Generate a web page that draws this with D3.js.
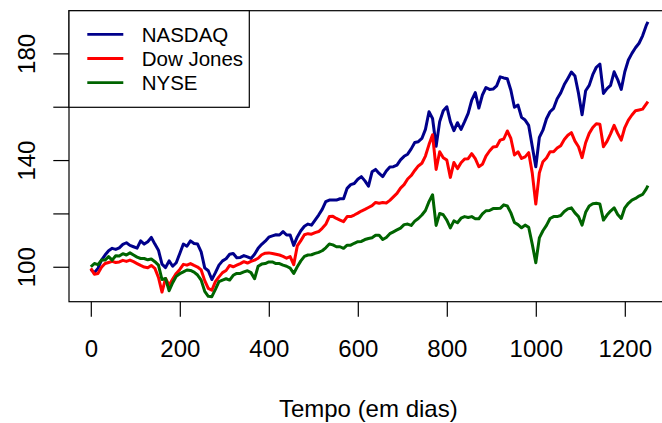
<!DOCTYPE html>
<html>
<head>
<meta charset="utf-8">
<script src="https://cdnjs.cloudflare.com/ajax/libs/d3/7.8.5/d3.min.js"></script>
<style>
  body { margin: 0; background: #fff; }
  svg { display: block; font-family: "Liberation Sans", Arial, sans-serif; }
</style>
</head>
<body>
<div id="svg_container"></div>
<script>
const w = 662;
const h = 423;

// day index of each sample
const days = [
  0, 8, 16, 24, 32, 40, 48, 56, 64, 72, 80, 88, 96, 104, 112, 120, 128, 136, 144, 152,
  160, 168, 176, 184, 192, 200, 208, 216, 224, 232, 240, 248, 256, 264, 272, 280, 288, 296, 304, 312,
  320, 328, 336, 344, 352, 360, 368, 376, 384, 392, 400, 408, 416, 424, 432, 440, 448, 456, 464, 472,
  480, 488, 496, 504, 512, 520, 528, 536, 544, 552, 560, 568, 576, 584, 592, 600, 608, 616, 624, 632,
  640, 648, 656, 664, 672, 680, 688, 696, 704, 712, 720, 728, 736, 744, 752, 760, 768, 776, 784, 792,
  800, 808, 816, 824, 832, 840, 848, 856, 864, 872, 880, 888, 896, 904, 912, 920, 928, 936, 944, 952,
  960, 968, 976, 984, 992, 1000, 1008, 1016, 1024, 1032, 1040, 1048, 1056, 1064, 1072, 1080, 1088, 1096, 1104, 1112,
  1120, 1128, 1136, 1144, 1152, 1160, 1168, 1176, 1184, 1192, 1200, 1208, 1216, 1224, 1232, 1240, 1248, 1252
];

const nasdaq = [
  99.0, 97.8, 99.4, 102.5, 104.4, 106, 106.9, 106.5, 107.1, 108.4, 109, 108, 107.5, 107, 109.7, 108.5, 109.4, 111, 108.5, 106.2,
  101, 99.7, 102.2, 100.2, 101.5, 105, 108.5, 107.7, 109.7, 108.7, 108.5, 105.6, 99.6, 98.5, 95.2, 97.8, 100.6, 102.2, 103, 104.7,
  105, 103.4, 103.5, 104.2, 103.7, 103.1, 104.7, 106.9, 108.4, 109.6, 111.1, 111.6, 112, 111.9, 113.2, 111.9, 111.9, 108, 111.2, 113.5,
  115.2, 116, 115.6, 117.5, 119.4, 121.5, 124.4, 125, 125, 125, 125.5, 125.5, 129.4, 130.8, 131.2, 132.8, 133.8, 132.2, 130.2, 135.6,
  136.5, 135, 133.8, 135.9, 137.4, 137.5, 138.1, 140.1, 141.4, 142.2, 144.2, 146.6, 146.9, 148.1, 151.5, 158.1, 155.6, 145.2, 154.4, 158.5,
  160, 154.4, 151, 154, 151.5, 154.4, 157.5, 162.5, 165.3, 159.5, 164.4, 167.2, 166.5, 166.6, 167.8, 171.2, 170.8, 170.5, 166.2, 159.8,
  160.6, 156, 155, 153, 145.2, 137.5, 148.5, 151.2, 155.5, 158.1, 159.4, 163, 165.2, 168.3, 170.6, 173, 171.5, 165, 157, 166,
  168, 172, 174.8, 176, 165, 166.8, 168, 173.1, 170.2, 166.5, 173.1, 177.5, 180, 182.1, 183.8, 186.6, 190.4, 191.8
];

const dowJones = [
  99.4, 97.2, 97.5, 99.8, 101.2, 101.6, 102, 101.6, 101.8, 102.4, 102, 102.5, 101.9, 101.2, 100.5, 99.9, 99.6, 100.5, 99.4, 96,
  90.5, 95.6, 93.1, 95.4, 97.5, 99, 100.9, 100.6, 101.2, 100.5, 99.9, 98.8, 94.8, 91.9, 91.2, 94.4, 96.2, 97.8, 98.6, 100.5,
  100, 100.6, 101.2, 101.9, 101.4, 102, 102.5, 103.2, 104.5, 105.1, 105.2, 105, 104.7, 104.4, 103.9, 103.2, 103.8, 100.8, 107.8, 109.8,
  112, 112.4, 112.2, 112.8, 113.2, 114.4, 115.9, 118.8, 118.9, 118.1, 117.5, 116.9, 118.8, 118.8, 119.4, 120.1, 120.9, 121.5, 122.2, 122.9,
  124.1, 123.8, 124.1, 123.9, 124.9, 126.2, 127.5, 129.5, 130.8, 132.9, 134.2, 136.1, 137.8, 138.8, 141.5, 145.8, 149.5, 136.5, 143.1, 140.9,
  140, 133.5, 139.1, 136.8, 139, 140.4, 140.5, 142.4, 140.5, 137.5, 138.4, 141.5, 143.4, 144.9, 145.1, 147.5, 147.9, 150.9, 148.1, 141.9,
  143.1, 140.6, 141.2, 142.8, 135.2, 123.5, 135.2, 139.4, 140.8, 143.1, 143.1, 144.5, 145.4, 147.7, 149.3, 150.3, 147.1, 145, 140.9, 146.5,
  150, 152.2, 153.6, 153.4, 145, 147, 149.8, 153, 150, 147.5, 152.2, 155, 156.9, 158.5, 158.8, 159.1, 161, 161.9
];

const nyse = [
  100, 101.2, 100.8, 102.5, 102.5, 103.8, 102.5, 104.1, 104, 104.9, 104.4, 105.2, 104.4, 103.6, 103.1, 103.1, 102.6, 102.9, 101.9, 100.6,
  95.2, 95.6, 91, 94, 96.4, 97.4, 98.1, 98.8, 98.6, 98, 96.9, 95, 90.8, 88.9, 88.8, 91.5, 94.4, 95, 95.5, 95,
  96.8, 97.5, 97.5, 98.1, 98.5, 97.8, 95.5, 100.2, 101, 101.2, 101.8, 101.8, 101.2, 101.2, 100.6, 100.2, 99.5, 97.5, 100, 102.2,
  103.9, 104.4, 104.5, 105, 105.4, 106, 107.1, 108.5, 108.2, 107.5, 107.5, 106.9, 108.1, 108.1, 108.8, 109.4, 109.5, 110.2, 110.6, 110.9,
  111.8, 111.8, 110.2, 111, 112.4, 113.1, 113.8, 114.5, 115.8, 116, 115.5, 117.1, 118.1, 119.4, 121.1, 124.4, 127, 115.5, 120, 119.5,
  117.5, 114.6, 117.2, 116.5, 118.2, 118.8, 118.5, 118.8, 118, 118, 119.8, 121, 121.1, 121.8, 121.8, 121.9, 123.2, 122.8, 120.2, 116.6,
  115.8, 114.6, 115.6, 114.8, 108.5, 101.5, 110.8, 113.5, 115.5, 118.1, 118.8, 118.8, 119.2, 120.7, 121.7, 122.1, 120.2, 118.8, 115.6, 120.4,
  122.8, 123.6, 123.8, 123.5, 117.5, 119.4, 120.9, 122.1, 119.6, 118.1, 122.1, 123.8, 125, 125.6, 126.5, 127.1, 129.1, 130.4
];

const seriesNames = ['NASDAQ', 'Dow Jones', 'NYSE'];
const seriesColors = ['#00008b', '#ff0000', '#006400'];
const xTicks = [0, 200, 400, 600, 800, 1000, 1200];
const yTicks = [100, 120, 140, 160, 180];
const yLabels = [100, 140, 180];
const xTitle = 'Tempo (em dias)';

// plot region (right edge falls just outside the picture)
const plotLeft = 69;
const plotTop = 10.7;
const plotRight = 669.3;
const plotBottom = 301.7;


function createCanvas() {
  let svg = d3.select('#svg_container')
              .append('svg')
              .attr('width', w)
              .attr('height', h);

  let xScale = d3.scaleLinear()
                 .domain([-49, 1300])
                 .range([plotLeft, plotRight]);

  let yScale = d3.scaleLinear()
                 .domain([86.9, 196])
                 .range([plotBottom, plotTop]);

  createLines(svg, xScale, yScale);
  createAxes(svg, xScale, yScale);
  createLegend(svg);
}  // End createCanvas


function createLines(svg, xScale, yScale) {
  let allSeries = [nasdaq, dowJones, nyse];
  let line = d3.line()
               .x((d, i) => xScale(days[i]))
               .y(d => yScale(d));

  allSeries.forEach((values, k) => {
    svg.append('path')
      .datum(values)
      .attr('d', line)
      .attr('fill', 'none')
      .attr('stroke', seriesColors[k])
      .attr('stroke-width', 3)
      .attr('stroke-linejoin', 'round');
  });
}  // End createLines


function createAxes(svg, xScale, yScale) {
  svg.append('rect')
    .attr('x', plotLeft)
    .attr('y', plotTop)
    .attr('width', plotRight - plotLeft)
    .attr('height', plotBottom - plotTop)
    .attr('fill', 'none')
    .attr('stroke', '#000')
    .attr('stroke-width', 1.2);

  let xAxis = d3.axisBottom(xScale)
                .tickValues(xTicks)
                .tickFormat(d3.format('d'))
                .tickSize(15)
                .tickPadding(23);

  let gx = svg.append('g')
              .attr('transform', `translate(0, ${plotBottom})`)
              .call(xAxis);
  gx.select('.domain').remove();
  gx.selectAll('line').attr('stroke-width', 1.2);
  gx.selectAll('text')
    .attr('font-size', 24)
    .attr('font-family', '"Liberation Sans", Arial, sans-serif')
    .attr('fill', '#000');

  let yAxis = d3.axisLeft(yScale)
                .tickValues(yTicks)
                .tickSize(15.7)
                .tickFormat(d => yLabels.includes(d) ? d : '');

  let gy = svg.append('g')
              .attr('transform', `translate(${plotLeft}, 0)`)
              .call(yAxis);
  gy.select('.domain').remove();
  gy.selectAll('line').attr('stroke-width', 1.2);
  gy.selectAll('text')
    .attr('x', 0)
    .attr('dy', 0)
    .attr('text-anchor', 'middle')
    .attr('transform', `translate(${35 - plotLeft}, 0) rotate(-90)`)
    .attr('font-size', 24)
    .attr('font-family', '"Liberation Sans", Arial, sans-serif')
    .attr('fill', '#000');

  svg.append('text')
    .attr('x', 368.3)
    .attr('y', 416.5)
    .attr('text-anchor', 'middle')
    .attr('font-size', 24)
    .text(xTitle);
}  // End createAxes


function createLegend(svg) {
  let g = svg.append('g');

  g.append('rect')
    .attr('x', plotLeft)
    .attr('y', plotTop)
    .attr('width', 180.3)
    .attr('height', 96.6)
    .attr('fill', '#fff')
    .attr('stroke', '#000')
    .attr('stroke-width', 1.2);

  seriesNames.forEach((name, i) => {
    let rowY = 34.3 + i * 24.2;
    g.append('line')
      .attr('x1', 87.3)
      .attr('x2', 123.3)
      .attr('y1', rowY)
      .attr('y2', rowY)
      .attr('stroke', seriesColors[i])
      .attr('stroke-width', 2.8);
    g.append('text')
      .attr('x', 141.7)
      .attr('y', rowY + 7.5)
      .attr('font-size', 20.5)
      .text(name);
  });
}  // End createLegend


createCanvas();
</script>
</body>
</html>
